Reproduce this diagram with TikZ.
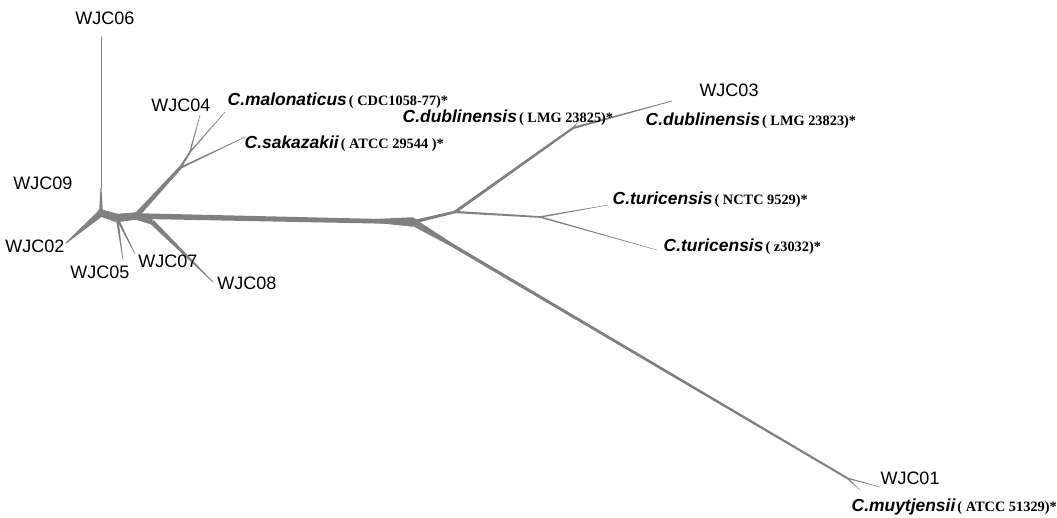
\documentclass[tikz,border=0pt]{standalone}
\usepackage{fontspec}
\setmainfont{Liberation Sans}
\newfontfamily\strainfont{Liberation Serif}
\usetikzlibrary{positioning, calc}
\definecolor{netgray}{RGB}{128,128,128}

\newcommand{\strain}[1]{\hspace{1.5pt}{\strainfont\upshape\bfseries\fontsize{10.2}{12}\selectfont #1}}
% tapered edge: from, to, start half-width, end half-width
\newcommand{\taper}[4]{%
    \fill[netgray] ($(#1)!#3!90:(#2)$) -- ($(#2)!#4!-90:(#1)$)
        -- ($(#2)!#4!90:(#1)$) -- ($(#1)!#3!-90:(#2)$) -- cycle;}

\begin{document}
\begin{tikzpicture}[
    x=0.025cm, y=-0.025cm,
    % Branch styles
    branch/.style={
        draw=netgray,
        line width=#1,
        line cap=round
    },
    branch/.default=0.5pt,
    knot/.style={
        fill=netgray
    },
    taxon/.style={
        font=\fontsize{12.8}{14}\selectfont,
        inner sep=1pt
    },
    species/.style={
        font=\fontsize{12.4}{14}\selectfont\bfseries\itshape,
        inner sep=1pt,
        anchor=west
    }
]

% Frame
\useasboundingbox (0,0) rectangle (1057,518);

% Splits
\coordinate (hubA) at (101,213);
\coordinate (hubC) at (117,218);
\coordinate (hubB) at (136,216);
\coordinate (split) at (413,222);
\coordinate (upj) at (455,212);
\coordinate (dubj) at (573,128);
\coordinate (turj) at (540,217);
\coordinate (lowj) at (452,245);
\coordinate (muyj) at (847,478);
\coordinate (sakj) at (180,168);
\coordinate (malj) at (190,152);
\coordinate (wj8) at (152,222);
\coordinate (wj6) at (101,188);

% Tips
\coordinate (t06) at (101,37);
\coordinate (t02) at (66,243);
\coordinate (t05) at (123,260);
\coordinate (t07) at (135,254);
\coordinate (t08) at (213,282);
\coordinate (t04) at (200,115);
\coordinate (tmal) at (225,112);
\coordinate (tsak) at (245,137);
\coordinate (tdub1) at (577,123);
\coordinate (t03) at (672,101);
\coordinate (ttur1) at (608,205);
\coordinate (ttur2) at (657,250);
\coordinate (t01) at (880,487);
\coordinate (tmuy) at (860,490);

% Central hub
\taper{hubA}{hubC}{2.6pt}{3pt}
\taper{hubC}{hubB}{3pt}{2.6pt}
\fill[knot] (hubA) circle (2.8pt);
\fill[knot] (hubB) circle (2.8pt);
\taper{hubA}{wj6}{1.4pt}{0.35pt}
\draw[branch] (wj6) -- (t06);
\taper{hubA}{t02}{2.4pt}{0.4pt}
\taper{hubC}{t05}{0.9pt}{0.2pt}
\taper{hubC}{t07}{0.9pt}{0.2pt}

% Trunk
\taper{hubB}{split}{2pt}{1.6pt}
\taper{hubB}{wj8}{2.6pt}{1.8pt}
\taper{wj8}{t08}{1.8pt}{0.25pt}

% Upper left group
\taper{hubB}{sakj}{1.9pt}{1.1pt}
\taper{sakj}{malj}{0.9pt}{0.6pt}
\taper{sakj}{tsak}{0.7pt}{0.2pt}
\taper{malj}{t04}{0.5pt}{0.2pt}
\taper{malj}{tmal}{0.5pt}{0.2pt}
\fill[knot] (sakj) circle (1pt);

% Right part
\taper{380,221}{split}{1.6pt}{3.4pt}
\fill[knot] (split) circle (3pt);
\taper{split}{upj}{1.3pt}{0.9pt}
\taper{upj}{dubj}{1.1pt}{0.8pt}
\fill[knot] (upj) circle (1.1pt);
\taper{dubj}{t03}{0.8pt}{0.25pt}
\taper{dubj}{tdub1}{0.4pt}{0.2pt}
\taper{upj}{turj}{0.8pt}{0.6pt}
\taper{turj}{ttur1}{0.55pt}{0.15pt}
\taper{turj}{ttur2}{0.55pt}{0.15pt}
\taper{split}{lowj}{2.6pt}{1.2pt}
\taper{lowj}{muyj}{1.2pt}{0.7pt}
\taper{muyj}{t01}{0.5pt}{0.15pt}
\taper{muyj}{tmuy}{0.5pt}{0.15pt}

% Isolate labels
\node[taxon] (l06) at (105,18) {WJC06};
\node[taxon] (l09) at (43,183) {WJC09};
\node[taxon] (l02) at (35,246) {WJC02};
\node[taxon] (l05) at (100,272) {WJC05};
\node[taxon] (l07) at (168,261) {WJC07};
\node[taxon] (l08) at (247,283) {WJC08};
\node[taxon] (l04) at (181,105) {WJC04};
\node[taxon] (l03) at (729,90) {WJC03};
\node[taxon] (l01) at (910,478) {WJC01};

% Reference strains
\node[species] (mal) at (226,101) {C.malonaticus\strain{( CDC1058-77)*}};
\node[species] (sak) at (243,144) {C.sakazakii\strain{( ATCC 29544 )*}};
\node[species] (dub1) at (401,118) {C.dublinensis\strain{( LMG 23825)*}};
\node[species] (dub2) at (644,121) {C.dublinensis\strain{( LMG 23823)*}};
\node[species] (tur1) at (611,200) {C.turicensis\strain{( NCTC 9529)*}};
\node[species] (tur2) at (662,247) {C.turicensis\strain{( z3032)*}};
\node[species] (muy) at (850,507) {C.muytjensii\strain{( ATCC 51329)*}};

\end{tikzpicture}
\end{document}
